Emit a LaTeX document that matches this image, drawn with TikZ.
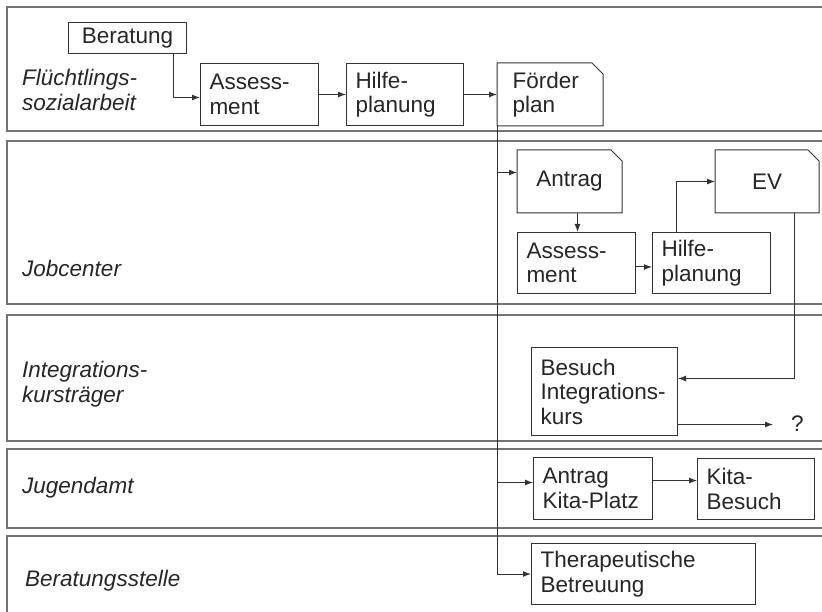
\documentclass[tikz,border=0pt]{standalone}
\usepackage{fontspec}
\setmainfont{Liberation Sans}
\usetikzlibrary{arrows.meta,calc}
\begin{document}
\begin{tikzpicture}[x=1pt,y=-1pt,
  lane/.style={draw=black!55, line width=1.2pt},
  box/.style={draw=black!80, line width=1pt, anchor=north west, inner xsep=9pt, inner ysep=0pt, align=left, font=\fontsize{22.5}{24.5}\selectfont, text=black!85},
  docbox/.style={box, draw=none},
  lbl/.style={anchor=west, align=left, font=\fontsize{22.5}{24.5}\selectfont\itshape, text=black!85, inner sep=0pt},
  arr/.style={draw=black!80, line width=1pt, -{Latex[length=8pt,width=6pt]}},
  conn/.style={draw=black!80, line width=1pt}]
\useasboundingbox (0,0) rectangle (822,612);
% lanes
\draw[lane] (822,7) -- (7,7) -- (7,131) -- (822,131);
\draw[lane] (822,141) -- (7,141) -- (7,304) -- (822,304);
\draw[lane] (822,315) -- (7,315) -- (7,441) -- (822,441);
\draw[lane] (822,449) -- (7,449) -- (7,528) -- (822,528);
\draw[lane] (822,536) -- (7,536) -- (7,612);
% lane labels
\node[lbl] (l1) at (22,90) {Flüchtlings-\\sozialarbeit};
\node[lbl] (l2) at (22,268) {Jobcenter};
\node[lbl] (l3) at (22,384) {Integrations-\\kursträger};
\node[lbl] (l4) at (22,488) {Jugendamt};
\node[lbl] (l5) at (25,581) {Beratungsstelle};
% lane 1
\node[box, align=center, text width=100pt, minimum height=31pt] (ber) at (68,22) {Beratung};
\node[box, text width=100pt, minimum height=62pt] (ass1) at (200,63) {Assess-\\ment};
\node[box, text width=99pt, minimum height=62pt] (hil1) at (346,63) {Hilfe-\\planung};
\node[docbox, inner xsep=15pt, text width=75pt, minimum height=62pt] (foe) at (497,63) {Förder\\plan};
\draw[conn] (foe.south west) -- (foe.north west) -- ([xshift=-11pt]foe.north east) -- ([yshift=-11pt]foe.north east) -- (foe.south east) -- cycle;
% lane 2
\node[docbox, align=center, text width=86pt, minimum height=62pt] (ant) at (517,150) {Antrag};
\draw[conn] (ant.south west) -- (ant.north west) -- ([xshift=-11pt]ant.north east) -- ([yshift=-11pt]ant.north east) -- (ant.south east) -- cycle;
\node[docbox, align=center, text width=85pt, minimum height=62pt] (ev) at (715,150) {EV};
\draw[conn] (ev.south west) -- (ev.north west) -- ([xshift=-11pt]ev.north east) -- ([yshift=-11pt]ev.north east) -- (ev.south east) -- cycle;
\node[box, text width=100pt, minimum height=61pt] (ass2) at (517,232) {Assess-\\ment};
\node[box, text width=100pt, minimum height=61pt] (hil2) at (652,232) {Hilfe-\\planung};
% lane 3
\node[box, text width=128pt, minimum height=88pt] (bes) at (531,347) {Besuch\\Integrations-\\kurs};
\node[anchor=west, inner xsep=18pt, inner ysep=0pt, font=\fontsize{22.5}{24.5}\selectfont, text=black!85] (q) at (773,424) {?};
% lane 4
\node[box, text width=101pt, minimum height=62pt] (akita) at (533,457) {Antrag\\Kita-Platz};
\node[box, text width=99pt, minimum height=61pt] (kita) at (697,458) {Kita-\\Besuch};
% lane 5
\node[box, text width=206pt, minimum height=61pt] (ther) at (531,543) {Therapeutische\\Betreuung};
% connectors
\draw[arr] ([xshift=-14pt]ber.south east) |- ([yshift=-3pt]ass1.west);
\draw[arr] (ass1.east) -- (hil1.west);
\draw[arr] (hil1.east) -- (foe.west);
\draw[arr] (foe.south west) |- (ther.west);
\draw[arr] ([yshift=9pt]ant.west -| foe.west) -- ([yshift=9pt]ant.west);
\draw[arr] ([yshift=6pt]akita.west -| foe.west) -- ([yshift=6pt]akita.west);
\draw[arr] ([xshift=8pt]ant.south) -- ([xshift=8pt]ant.south |- ass2.north);
\draw[arr] ([yshift=-4pt]ass2.east) -- ([yshift=-4pt]ass2.east -| hil2.west);
\draw[arr] ([xshift=24pt]hil2.north west) |- (ev.west);
\draw[arr] ([xshift=79pt]ev.south west) |- ([yshift=13pt]bes.east);
\draw[arr] ([yshift=-33pt]bes.east) -- ([yshift=-33pt]bes.east -| q.west);
\draw[arr] ([yshift=8pt]akita.east) -- ([yshift=8pt]akita.east -| kita.west);
\end{tikzpicture}
\end{document}
